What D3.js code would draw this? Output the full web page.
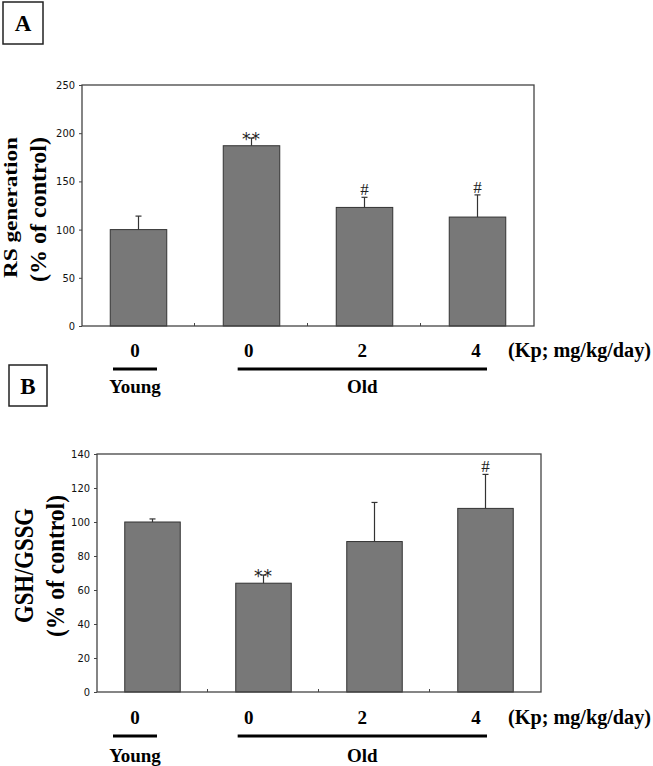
<!DOCTYPE html>
<meta charset="utf-8">
<script src="https://d3js.org/d3.v7.min.js"></script>
<body style="margin:0;background:#fff">
<svg width="653" height="766"></svg>
<script>
    // ---- data ----
    var groups    = ["young0", "old0", "old2", "old4"];
    var doseLabels = ["0", "0", "2", "4"];
    var ageGroups = [{name: "Young", from: 0, to: 0}, {name: "Old", from: 1, to: 3}];

    var rsMean = [100, 187, 123, 113];
    var rsErr  = [14, 8, 10.5, 23];
    var rsSig  = ["", "**", "#", "#"];
    var rsTicks = [0, 50, 100, 150, 200, 250];

    var gshMean = [100, 64, 88.5, 108];
    var gshErr  = [1.8, 4.8, 23, 20];
    var gshSig  = ["", "**", "", "#"];
    var gshTicks = [0, 20, 40, 60, 80, 100, 120, 140];

    var serif = "'Liberation Serif','Times New Roman',serif";
    var narrow = "'Liberation Sans Narrow','DejaVu Sans Condensed',sans-serif";

    var svg = d3.select("svg");

    var panels = [
        {letter: "A", box: [3, 2, 40, 42],
         left: 82, right: 534, top: 85, bottom: 326,
         mean: rsMean, err: rsErr, sig: rsSig, ticks: rsTicks,
         titles: [{t: "RS generation", x: 17, y: 207.5, fs: 19, len: 141},
                  {t: "(% of control)", x: 46, y: 209.5, fs: 24, len: 145}],
         doseY: 357, lineY: 369, groupY: 393},
        {letter: "B", box: [9, 365, 38, 41],
         left: 97, right: 541, top: 454, bottom: 692,
         mean: gshMean, err: gshErr, sig: gshSig, ticks: gshTicks,
         titles: [{t: "GSH/GSSG", x: 33, y: 565.5, fs: 28, len: 115},
                  {t: "(% of control)", x: 64, y: 566, fs: 26, len: 142}],
         doseY: 724, lineY: 736, groupY: 762}
    ];

    // dose label row sits in the same place for both panels
    var xDose = d3.scalePoint().domain(groups).range([135, 476]);

    panels.forEach(function(p){
        var g = svg.append("g");

        var x = d3.scaleBand().domain(groups).range([p.left, p.right])
            .paddingInner(0.5).paddingOuter(0.25);
        var y = d3.scaleLinear().domain([0, d3.max(p.ticks)]).range([p.bottom, p.top]);

        // panel letter box
        g.append("rect")
            .attr("x", p.box[0]).attr("y", p.box[1])
            .attr("width", p.box[2]).attr("height", p.box[3])
            .attr("fill", "none").attr("stroke", "#222").attr("stroke-width", 1.5);
        g.append("text")
            .attr("x", p.box[0] + p.box[2] / 2).attr("y", p.box[1] + p.box[3] / 2 + 8)
            .attr("text-anchor", "middle")
            .style("font", "bold 23px " + serif)
            .text(p.letter);

        // y axis
        var yAxis = d3.axisLeft(y).tickValues(p.ticks).tickSize(3).tickSizeOuter(0).tickPadding(4);
        var ax = g.append("g").attr("transform", "translate(" + p.left + ",0)").call(yAxis);
        ax.select(".domain").remove();
        ax.selectAll("line").attr("stroke", "#444");
        ax.selectAll("text").style("font", "11px " + narrow).attr("fill", "#111");

        // bars
        g.selectAll("rect.bar").data(p.mean).enter().append("rect")
            .attr("class", "bar")
            .attr("x", function(d, i){ return x(groups[i]); })
            .attr("y", function(d){ return y(d); })
            .attr("width", x.bandwidth())
            .attr("height", function(d){ return y(0) - y(d); })
            .attr("fill", "#787878")
            .attr("stroke", "#333")
            .attr("stroke-width", 1);

        // error bars
        var eb = g.selectAll("g.err").data(p.mean).enter().append("g").attr("class", "err");
        eb.append("line")
            .attr("x1", function(d, i){ return x(groups[i]) + x.bandwidth() / 2; })
            .attr("x2", function(d, i){ return x(groups[i]) + x.bandwidth() / 2; })
            .attr("y1", function(d){ return y(d); })
            .attr("y2", function(d, i){ return y(d + p.err[i]); })
            .attr("stroke", "#333").attr("stroke-width", 1.2);
        eb.append("line")
            .attr("x1", function(d, i){ return x(groups[i]) + x.bandwidth() / 2 - 3; })
            .attr("x2", function(d, i){ return x(groups[i]) + x.bandwidth() / 2 + 3; })
            .attr("y1", function(d, i){ return y(d + p.err[i]); })
            .attr("y2", function(d, i){ return y(d + p.err[i]); })
            .attr("stroke", "#333").attr("stroke-width", 1.2);

        // significance marks
        g.selectAll("text.sig").data(p.sig).enter().append("text")
            .attr("class", "sig")
            .attr("x", function(d, i){ return x(groups[i]) + x.bandwidth() / 2; })
            .attr("y", function(d, i){ return y(p.mean[i] + p.err[i]) + (d == "**" ? 7 : -2); })
            .attr("text-anchor", "middle")
            .attr("letter-spacing", function(d){ return d == "**" ? 1 : 0; })
            .style("font", function(d){ return d == "**" ? "17px 'DejaVu Sans',sans-serif" : "17px " + serif; })
            .attr("fill", "#222")
            .text(function(d){ return d; });

        // frame
        g.append("rect")
            .attr("x", p.left).attr("y", p.top)
            .attr("width", p.right - p.left).attr("height", p.bottom - p.top)
            .attr("fill", "none").attr("stroke", "#444").attr("stroke-width", 1.3);

        // small ticks between categories
        g.selectAll("line.sep").data(groups.slice(1)).enter().append("line")
            .attr("x1", function(d){ return x(d) - x.step() * x.paddingInner() / 2 - 0.5; })
            .attr("x2", function(d){ return x(d) - x.step() * x.paddingInner() / 2 - 0.5; })
            .attr("y1", p.bottom).attr("y2", p.bottom - 3)
            .attr("stroke", "#444");

        // y titles
        p.titles.forEach(function(t){
            g.append("text")
                .attr("transform", "translate(" + t.x + "," + t.y + ") rotate(-90)")
                .attr("text-anchor", "middle")
                .attr("textLength", t.len)
                .attr("lengthAdjust", "spacingAndGlyphs")
                .style("font", "bold " + t.fs + "px " + serif)
                .text(t.t);
        });

        // dose labels
        g.selectAll("text.dose").data(doseLabels).enter().append("text")
            .attr("class", "dose")
            .attr("x", function(d, i){ return xDose(groups[i]); })
            .attr("y", p.doseY)
            .attr("text-anchor", "middle")
            .style("font", "bold 19px " + serif)
            .text(function(d){ return d; });
        g.append("text")
            .attr("x", 508).attr("y", p.doseY)
            .attr("textLength", 143)
            .attr("lengthAdjust", "spacingAndGlyphs")
            .style("font", "bold 20px " + serif)
            .text("(Kp; mg/kg/day)");

        // age group lines + names
        ageGroups.forEach(function(a){
            var pad = a.from == a.to ? 22 : 11;
            var x1 = xDose(groups[a.from]) - pad, x2 = xDose(groups[a.to]) + pad;
            g.append("line")
                .attr("x1", x1).attr("x2", x2)
                .attr("y1", p.lineY).attr("y2", p.lineY)
                .attr("stroke", "#000").attr("stroke-width", 3);
            g.append("text")
                .attr("x", (x1 + x2) / 2).attr("y", p.groupY)
                .attr("text-anchor", "middle")
                .style("font", "bold 19px " + serif)
                .text(a.name);
        });
    });
</script>
</body>
